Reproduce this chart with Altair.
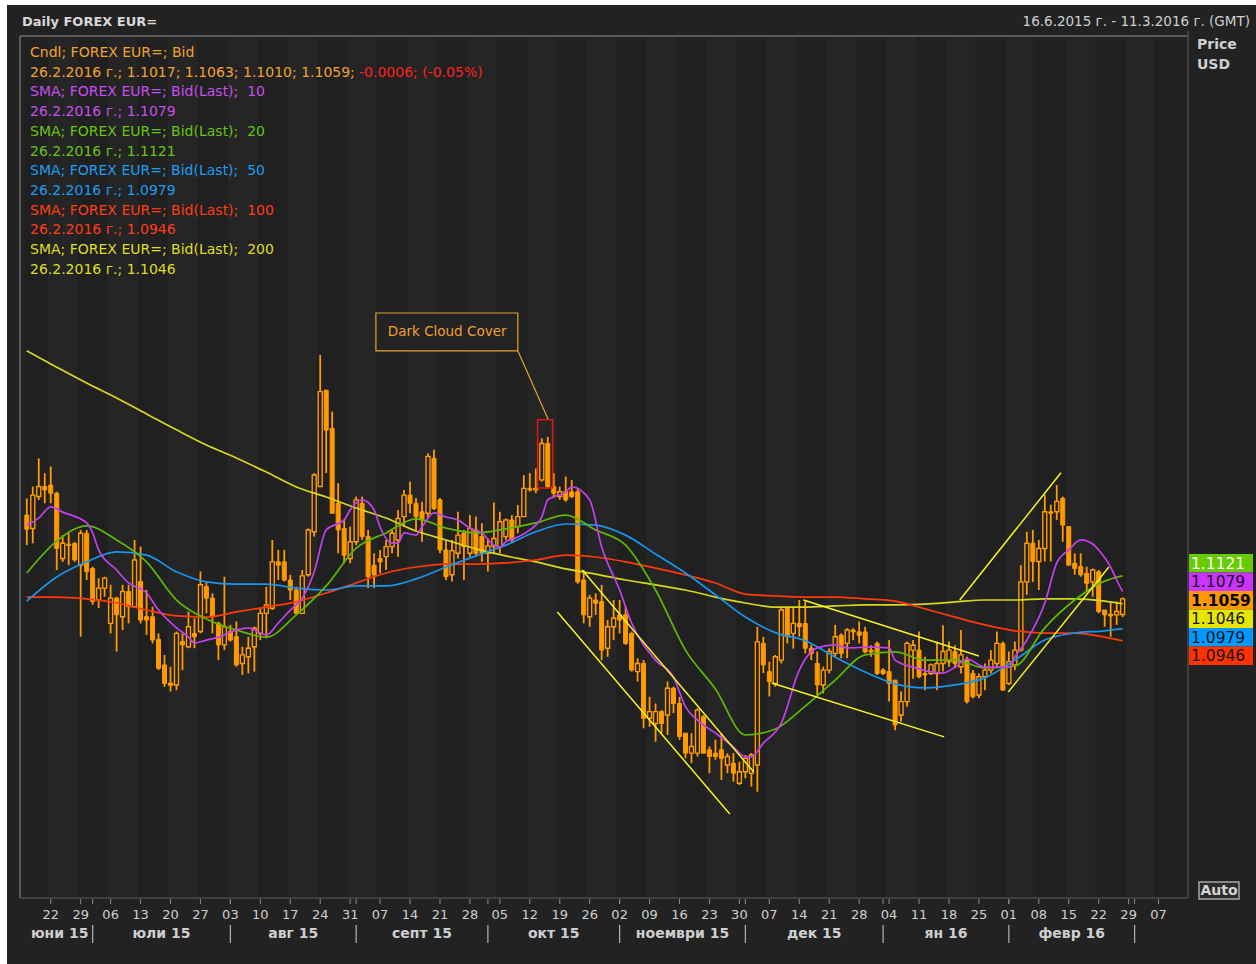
import altair as alt
import pandas as pd

# ---------------- data ----------------
opens = [1.1285,1.1249,1.1335,1.1362,1.1366,1.1344,1.1168,1.1207,1.1209,1.1150,
         1.1236,1.1141,1.1056,1.1088,1.0993,1.1061,1.1011,1.1079,1.1038,1.1106,
         1.1011,1.1011,1.0950,1.0881,1.0827,1.0827,1.0944,1.0930,1.0966,1.0971,
         1.1092,1.1061,1.0993,1.0935,1.0971,1.0957,1.0885,1.0903,1.0930,1.0966,
         1.1020,1.1034,1.1159,1.1159,1.1110,1.1083,1.1020,1.1124,1.1240,1.1362,
         1.1622,1.1519,1.1317,1.1249,1.1168,1.1213,1.1317,1.1227,1.1150,1.1168,
         1.1173,1.1200,1.1218,1.1281,1.1339,1.1317,1.1294,1.1290,1.1438,1.1326,
         1.1191,1.1124,1.1182,1.1236,1.1182,1.1245,1.1227,1.1182,1.1200,1.1200,
         1.1227,1.1272,1.1254,1.1281,1.1357,1.1353,1.1380,1.1478,1.1362,1.1335,
         1.1348,1.1348,1.1348,1.1110,1.1011,1.1056,1.1052,1.0926,1.0984,1.1016,
         1.1016,1.0966,1.0863,1.0885,1.0737,1.0723,1.0755,1.0746,1.0818,1.0777,
         1.0697,1.0643,1.0643,1.0741,1.0652,1.0643,1.0652,1.0611,1.0616,1.0562,
         1.0593,1.0589,1.0611,1.0939,1.0863,1.0831,1.0894,1.1034,1.0966,1.0993,
         1.0993,1.0926,1.0885,1.0827,1.0867,1.0912,1.0961,1.0939,1.0975,1.0970,
         1.0970,1.0921,1.0939,1.0867,1.0863,1.0840,1.0746,1.0782,1.0921,1.0921,
         1.0858,1.0858,1.0858,1.0885,1.0890,1.0917,1.0876,1.0894,1.0858,1.0800,
         1.0849,1.0867,1.0885,1.0939,1.0831,1.0881,1.0921,1.1105,1.1209,1.1160,
         1.1195,1.1294,1.1294,1.1330,1.1254,1.1155,1.1146,1.1128,1.1105,1.1132,
         1.1029,1.1018,1.1016,1.1017]
highs = [1.1330,1.1362,1.1438,1.1398,1.1416,1.1348,1.1231,1.1236,1.1212,1.1245,
         1.1245,1.1146,1.1115,1.1119,1.1097,1.1065,1.1097,1.1097,1.1218,1.1200,
         1.1083,1.1038,1.0966,1.0908,1.0876,1.0971,1.0966,1.1025,1.1007,1.1133,
         1.1106,1.1074,1.0998,1.1119,1.0989,1.0998,1.0930,1.0957,1.0984,1.1034,
         1.1092,1.1218,1.1191,1.1191,1.1124,1.1092,1.1137,1.1249,1.1398,1.1717,
         1.1622,1.1564,1.1371,1.1272,1.1254,1.1335,1.1335,1.1245,1.1182,1.1191,
         1.1218,1.1245,1.1299,1.1353,1.1375,1.1331,1.1321,1.1452,1.1461,1.1331,
         1.1218,1.1218,1.1294,1.1245,1.1285,1.1281,1.1263,1.1222,1.1319,1.1294,
         1.1276,1.1285,1.1312,1.1393,1.1398,1.1411,1.1492,1.1496,1.1398,1.1362,
         1.1389,1.1380,1.1358,1.1137,1.1070,1.1074,1.1097,1.1002,1.1056,1.1056,
         1.1038,1.0971,1.0899,1.0894,1.0795,1.0777,1.0759,1.0836,1.0822,1.0795,
         1.0697,1.0697,1.0764,1.0746,1.0661,1.0679,1.0697,1.0643,1.0643,1.0620,
         1.0638,1.0643,1.0984,1.0957,1.0890,1.0908,1.1038,1.1038,1.1038,1.1056,
         1.1052,1.0935,1.0917,1.0876,1.0926,1.0989,1.0966,1.0980,1.0980,1.0998,
         1.0984,1.0934,1.0944,1.0872,1.0948,1.0840,1.0809,1.0944,1.0948,1.0971,
         1.0903,1.0885,1.0944,1.0988,1.0944,1.0934,1.0975,1.0903,1.0867,1.0858,
         1.0885,1.0921,1.0971,1.0944,1.0917,1.0944,1.1150,1.1240,1.1245,1.1218,
         1.1340,1.1313,1.1366,1.1335,1.1254,1.1182,1.1182,1.1146,1.1141,1.1137,
         1.1029,1.1052,1.1052,1.1063]
lows = [1.1204,1.1209,1.1326,1.1317,1.1317,1.1137,1.1159,1.1150,1.1159,1.0957,
        1.1110,1.1043,1.1034,1.1065,1.0966,1.0917,1.0975,1.0993,1.1038,1.0993,
        1.0962,1.0939,1.0867,1.0822,1.0809,1.0813,1.0867,1.0926,1.0926,1.0966,
        1.1020,1.0966,1.0894,1.0921,1.0944,1.0876,1.0854,1.0858,1.0863,1.0948,
        1.0953,1.1029,1.1110,1.1106,1.1056,1.1016,1.1020,1.1119,1.1227,1.1362,
        1.1398,1.1290,1.1182,1.1155,1.1155,1.1204,1.1218,1.1088,1.1088,1.1128,
        1.1137,1.1182,1.1173,1.1254,1.1290,1.1245,1.1213,1.1276,1.1299,1.1182,
        1.1110,1.1106,1.1168,1.1110,1.1173,1.1173,1.1159,1.1133,1.1182,1.1182,
        1.1218,1.1213,1.1236,1.1281,1.1348,1.1344,1.1375,1.1357,1.1331,1.1326,
        1.1321,1.1331,1.1100,1.0993,1.0984,1.1016,1.0894,1.0903,1.0948,1.0966,
        1.0935,1.0863,1.0836,1.0710,1.0714,1.0674,1.0697,1.0692,1.0751,1.0679,
        1.0629,1.0616,1.0634,1.0643,1.0589,1.0625,1.0571,1.0589,1.0566,1.0557,
        1.0575,1.0553,1.0539,1.0859,1.0796,1.0822,1.0885,1.0939,1.0925,1.0957,
        1.0912,1.0894,1.0800,1.0804,1.0858,1.0903,1.0899,1.0899,1.0948,1.0939,
        1.0912,1.0903,1.0854,1.0854,1.0782,1.0705,1.0728,1.0768,1.0844,1.0845,
        1.0813,1.0854,1.0813,1.0863,1.0876,1.0872,1.0858,1.0777,1.0791,1.0791,
        1.0813,1.0858,1.0872,1.0813,1.0827,1.0867,1.0917,1.1070,1.1105,1.1083,
        1.1160,1.1160,1.1272,1.1213,1.1150,1.1124,1.1119,1.1079,1.1065,1.1020,
        1.0984,1.0957,1.0989,1.1010]
closes = [1.1247,1.1339,1.1362,1.1353,1.1344,1.1195,1.1209,1.1203,1.1164,1.1236,
          1.1133,1.1052,1.1088,1.1115,1.1061,1.1016,1.1079,1.1038,1.1164,1.1002,
          1.1002,1.0948,1.0872,1.0831,1.0831,1.0966,1.0935,1.0984,1.0957,1.1097,
          1.1061,1.1011,1.0935,1.0984,1.0948,1.0881,1.0908,1.0926,1.0980,1.1020,
          1.1043,1.1159,1.1150,1.1110,1.1083,1.1020,1.1121,1.1245,1.1393,1.1618,
          1.1514,1.1290,1.1245,1.1177,1.1213,1.1326,1.1227,1.1119,1.1124,1.1159,
          1.1200,1.1236,1.1276,1.1339,1.1317,1.1281,1.1272,1.1443,1.1303,1.1191,
          1.1119,1.1189,1.1231,1.1200,1.1249,1.1182,1.1182,1.1202,1.1222,1.1267,
          1.1272,1.1218,1.1281,1.1357,1.1353,1.1357,1.1478,1.1362,1.1344,1.1348,
          1.1326,1.1335,1.1105,1.1016,1.1061,1.1047,1.0921,1.0984,1.1007,1.1002,
          1.0939,1.0867,1.0885,1.0737,1.0755,1.0755,1.0723,1.0818,1.0777,1.0688,
          1.0643,1.0661,1.0759,1.0643,1.0634,1.0634,1.0629,1.0634,1.0589,1.0593,
          1.0629,1.0638,1.0943,1.0881,1.0836,1.0903,1.1029,1.0957,1.0993,1.0984,
          1.0926,1.0912,1.0827,1.0867,1.0917,1.0957,1.0912,1.0975,1.0970,1.0961,
          1.0916,1.0916,1.0858,1.0858,1.0831,1.0719,1.0782,1.0939,1.0934,1.0849,
          1.0854,1.0881,1.0885,1.0917,1.0921,1.0885,1.0908,1.0782,1.0795,1.0849,
          1.0867,1.0894,1.0939,1.0813,1.0890,1.0921,1.1105,1.1209,1.1160,1.1195,
          1.1294,1.1290,1.1322,1.1258,1.1150,1.1141,1.1124,1.1101,1.1137,1.1025,
          1.1016,1.1013,1.1025,1.1059]

sma_idx = [0,5,10,15,20,25,30,35,40,45,50,55,60,65,70,75,80,85,90,95,100,105,
           110,115,120,125,130,135,140,145,150,155,160,165,170,175,180,183]
sma20 = [1.1129,1.1215,1.1256,1.1218,1.1159,1.1056,1.1005,1.0975,1.0956,1.1016,
         1.1094,1.1196,1.1237,1.1275,1.1250,1.1237,1.1248,1.1264,1.1285,1.1245,
         1.1204,1.1083,1.0921,1.0816,1.0692,1.0708,1.0770,1.0840,1.0908,1.0916,
         1.0894,1.0894,1.0873,1.0878,1.0981,1.1056,1.1107,1.1121]
sma50 = [1.1053,1.1118,1.1159,1.1186,1.1177,1.1132,1.1105,1.1099,1.1099,1.1088,
         1.1083,1.1094,1.1094,1.1113,1.1145,1.1175,1.1204,1.1240,1.1261,1.1258,
         1.1231,1.1180,1.1129,1.1070,1.1010,1.0968,1.0946,1.0902,1.0862,1.0830,
         1.0819,1.0827,1.0846,1.0894,1.0948,1.0967,1.0973,1.0979]
sma100 = [1.1064,1.1064,1.1059,1.1048,1.1029,1.1013,1.1010,1.1024,1.1037,1.1051,
          1.1075,1.1102,1.1129,1.1145,1.1153,1.1153,1.1156,1.1164,1.1177,1.1172,
          1.1159,1.1142,1.1124,1.1102,1.1072,1.1067,1.1064,1.1064,1.1059,1.1053,
          1.1032,1.1010,1.0989,1.0973,1.0967,1.0967,1.0956,1.0946]
sma200 = [1.1728,1.1684,1.1641,1.1601,1.1558,1.1515,1.1474,1.1439,1.1401,1.1361,
          1.1334,1.1304,1.1277,1.1242,1.1218,1.1194,1.1175,1.1159,1.1140,1.1126,
          1.1110,1.1097,1.1083,1.1064,1.1048,1.1037,1.1037,1.1040,1.1043,1.1043,
          1.1045,1.1051,1.1056,1.1056,1.1059,1.1059,1.1053,1.1046]
sma10_idx = [0,2,4,6,10,11,12,15,17,20,22,25,27,28,30,32,35,37,39,40,42,44,46,48,50,
             53,54,56,58,59,61,62,63,65,66,68,70,72,74,76,78,79,80,82,84,86,87,90,91,
             94,96,99,101,105,108,110,112,115,118,120,121,123,126,129,132,135,137,141,
             144,145,148,153,155,157,160,164,165,167,170,172,174,176,178,179,181,182,183]
sma10 = [1.1258,1.1277,1.1307,1.1293,1.1264,1.1237,1.1191,1.1137,1.1102,1.1075,
         1.1029,1.0981,1.0956,1.0940,1.0948,1.0956,1.0975,1.0981,1.0967,1.0962,
         1.0994,1.1029,1.1061,1.1132,1.1245,1.1272,1.1299,1.1326,1.1299,1.1253,
         1.1210,1.1210,1.1237,1.1231,1.1253,1.1291,1.1280,1.1272,1.1250,1.1237,
         1.1204,1.1199,1.1213,1.1226,1.1245,1.1280,1.1326,1.1347,1.1361,1.1326,
         1.1199,1.1083,1.0994,1.0894,1.0848,1.0768,1.0732,1.0697,1.0660,1.0633,
         1.0633,1.0670,1.0724,1.0867,1.0927,1.0935,1.0927,1.0929,1.0927,1.0894,
         1.0875,1.0859,1.0875,1.0897,1.0875,1.0875,1.0902,1.0948,1.1048,1.1156,
         1.1191,1.1218,1.1207,1.1191,1.1145,1.1110,1.1079]

# drawn trend lines (start day, start price, end day, end price)
trend_x0 = [88.6, 92.75, 129.7, 124.4, 155.8, 163.9]
trend_p0 = [1.1024, 1.1137, 1.1056, 1.0832, 1.1056, 1.0808]
trend_x1 = [117.4, 121.4, 159.0, 153.2, 172.7, 180.7]
trend_p1 = [1.0479, 1.0592, 1.0905, 1.0687, 1.1399, 1.1145]

day_tick_idx = [4,9,14,19,24,29,34,39,44,49,54,59,64,69,74,79,84,89,94,99,104,109,
                114,119,124,129,134,139,144,149,154,159,164,169,174,179,184,189]
day_tick_labels = ["22","29","06","13","20","27","03","10","17","24","31","07","14",
                   "21","28","05","12","19","26","02","09","16","23","30","07","14",
                   "21","28","04","11","18","25","01","08","15","22","29","07"]
month_names = ["юни 15","юли 15","авг 15","септ 15","окт 15","ноември 15","дек 15","ян 16","февр 16"]
month_start_idx = [0, 11, 34, 55, 77, 99, 120, 143, 164, 185]
price_ticks = [1.03,1.04,1.05,1.06,1.07,1.08,1.09,1.10,1.11,1.12,1.13,1.14,1.15,
               1.16,1.17,1.18,1.19,1.20,1.21,1.22,1.23,1.24]

# annotation "Dark Cloud Cover"
dcc_box = {"x0": 58.3, "x1": 82.0, "p0": 1.1830, "p1": 1.1728}
dcc_label = {"x": 70.2, "p": 1.1779, "t": "Dark Cloud Cover"}
dcc_link = {"x0": 82.0, "p0": 1.1728, "x1": 87.1, "p1": 1.1542}
dcc_mark = {"x0": 85.3, "x1": 87.8, "p0": 1.1542, "p1": 1.1358}

# ---------------- styling ----------------
W, H = 1168, 861
X_DOMAIN = [-0.298, 193.08]
Y_DOMAIN = [1.02524, 1.25744]
FONT = "DejaVu Sans"
BG = "#222222"
LIGHT, DARK = "#252525", "#202020"
HOLLOW = "#222222"
ORANGE = "#ff9a00"
C10, C20, C50, C100, C200 = "#c540ef", "#5fb800", "#1696f0", "#ff3a0a", "#d8d81a"
TREND = "#f5f51e"
TXT = "#cfcfcf"
ONE = pd.DataFrame({"a": [0]})

xs = alt.Scale(domain=X_DOMAIN, nice=False, zero=False)
ys = alt.Scale(domain=Y_DOMAIN, nice=False, zero=False)


def XQ(f):
    return alt.X(f, type="quantitative", scale=xs, axis=None)


def YQ(f):
    return alt.Y(f, type="quantitative", scale=ys, axis=None)


def vtext(s, x, y, color, size=14, weight="normal", align="left", font=FONT):
    return alt.Chart(ONE).mark_text(text=s, align=align, baseline="middle", font=font,
                                    fontSize=size, fontWeight=weight, color=color
                                    ).encode(x=alt.value(x), y=alt.value(y))


layers = []
# page background (white border strip at left/top like the screenshot)
layers.append(alt.Chart(ONE).mark_rect(color=BG).encode(
    x=alt.value(-13), x2=alt.value(1236), y=alt.value(-32), y2=alt.value(927)))

# weekly stripes
weeks = pd.DataFrame({"k": list(range(-1, 38))})
weeks["s"] = (4 + 5 * weeks.k - 0.5).clip(lower=X_DOMAIN[0])
weeks["e"] = (4 + 5 * weeks.k + 4.5).clip(upper=X_DOMAIN[1])
weeks["even"] = [k % 2 == 0 for k in weeks.k]
layers.append(alt.Chart(weeks).transform_filter("datum.even").mark_rect(color=LIGHT).encode(
    x=XQ("s"), x2="e:Q"))
layers.append(alt.Chart(weeks).transform_filter("!datum.even").mark_rect(color=DARK).encode(
    x=XQ("s"), x2="e:Q"))

# candles
cdf = pd.DataFrame({"i": list(range(len(opens))), "o": opens, "h": highs, "l": lows, "c": closes})
y_axis = alt.Axis(orient="right", values=price_ticks, title=None, grid=False, domain=False,
                  labelExpr="abs(datum.value - 1.2) < 1e-6 ? '1.2' : format(datum.value, '.2f')",
                  labelFontWeight={"condition": {"test": "abs(datum.value - 1.2) < 1e-6", "value": "bold"},
                                   "value": "normal"},
                  tickSize=5, tickColor="#a0a0a0", labelColor=TXT, labelFont=FONT,
                  labelFontSize=13, labelPadding=3)
layers.append(alt.Chart(cdf).mark_rule(color=ORANGE, strokeWidth=1.8).encode(
    x=XQ("i"), y=alt.Y("l:Q", scale=ys, axis=y_axis), y2="h:Q"))
layers.append(alt.Chart(cdf).transform_filter("datum.c < datum.o").mark_bar(
    size=4, fill=ORANGE, stroke=ORANGE, strokeWidth=1).encode(x=XQ("i"), y=YQ("o"), y2="c:Q"))
layers.append(alt.Chart(cdf).transform_filter("datum.c >= datum.o").mark_bar(
    size=4, fill=HOLLOW, stroke=ORANGE, strokeWidth=1.4).encode(x=XQ("i"), y=YQ("o"), y2="c:Q"))

# moving averages, one layer each
for idx, vals, col in [(sma_idx, sma200, C200), (sma_idx, sma100, C100), (sma_idx, sma50, C50),
                       (sma_idx, sma20, C20), (sma10_idx, sma10, C10)]:
    layers.append(alt.Chart(pd.DataFrame({"i": idx, "v": vals})).mark_line(
        color=col, strokeWidth=1.7, interpolate="monotone").encode(x=XQ("i"), y=YQ("v")))

# trend lines
tdf = pd.DataFrame({"x0": trend_x0, "x1": trend_x1, "p0": trend_p0, "p1": trend_p1})
layers.append(alt.Chart(tdf).mark_rule(color=TREND, strokeWidth=1.5).encode(
    x=XQ("x0"), x2="x1:Q", y=YQ("p0"), y2="p1:Q"))

# annotation
layers.append(alt.Chart(pd.DataFrame([dcc_link])).mark_rule(color="#e8a030", strokeWidth=1.2).encode(
    x=XQ("x0"), x2="x1:Q", y=YQ("p0"), y2="p1:Q"))
layers.append(alt.Chart(pd.DataFrame([dcc_box])).mark_rect(fill="#232323", stroke="#e8a030", strokeWidth=1.2).encode(
    x=XQ("x0"), x2="x1:Q", y=YQ("p0"), y2="p1:Q"))
layers.append(alt.Chart(pd.DataFrame([dcc_label])).mark_text(font=FONT, fontSize=13.5, color="#f0a030").encode(
    x=XQ("x"), y=YQ("p"), text="t:N"))
layers.append(alt.Chart(pd.DataFrame([dcc_mark])).mark_rect(fill="transparent", stroke="#e31515", strokeWidth=1.5).encode(
    x=XQ("x0"), x2="x1:Q", y=YQ("p0"), y2="p1:Q"))

# frame
FR = "#5a5a5a"
layers.append(alt.Chart(ONE).mark_rule(color=FR, strokeWidth=2).encode(x=alt.value(0), x2=alt.value(W), y=alt.value(-1)))
layers.append(alt.Chart(ONE).mark_rule(color=FR, strokeWidth=2).encode(x=alt.value(0), y=alt.value(-1), y2=alt.value(H)))
layers.append(alt.Chart(ONE).mark_rule(color="#4a4a4a", strokeWidth=1.5).encode(x=alt.value(W), y=alt.value(-6), y2=alt.value(H)))
layers.append(alt.Chart(ONE).mark_rule(color="#4a4a4a", strokeWidth=1.5).encode(x=alt.value(0), x2=alt.value(W), y=alt.value(H)))

# legend text block
last = "26.2.2016 г.; "
NB = "\u00a0"
leg = [
    ("Cndl; FOREX EUR=; Bid", "#f2a030"),
    (last + "%.4f; %.4f; %.4f; %.4f; " % (opens[-1], highs[-1], lows[-1], closes[-1]), "#f2a030"),
    ("SMA; FOREX EUR=; Bid(Last);" + NB + " 10", "#c84ef0"),
    (last + "%.4f" % sma10[-1], "#c84ef0"),
    ("SMA; FOREX EUR=; Bid(Last);" + NB + " 20", "#68c414"),
    (last + "%.4f" % sma20[-1], "#68c414"),
    ("SMA; FOREX EUR=; Bid(Last);" + NB + " 50", "#1a9df2"),
    (last + "%.4f" % sma50[-1], "#1a9df2"),
    ("SMA; FOREX EUR=; Bid(Last);" + NB + " 100", "#ff3c14"),
    (last + "%.4f" % sma100[-1], "#ff3c14"),
    ("SMA; FOREX EUR=; Bid(Last);" + NB + " 200", "#dede20"),
    (last + "%.4f" % sma200[-1], "#dede20"),
]
for r, (s, col) in enumerate(leg):
    layers.append(vtext(s, 10, 16 + 19.7 * r, col))
layers.append(vtext("-0.0006; (-0.05%)", 339, 35.7, "#ff2020"))

# headers
layers.append(vtext("Daily FOREX EUR=", 2, -15, "#d8d8d8", size=13, weight="bold"))
layers.append(vtext("16.6.2015 г. - 11.3.2016 г. (GMT)", 1230, -15, TXT, size=13.5, align="right"))
layers.append(vtext("Price", 1177, 8, "#d0d0d0", size=14, weight="bold"))
layers.append(vtext("USD", 1177, 28, "#d0d0d0", size=14, weight="bold"))

# day ticks and labels (bottom row)
ddf = pd.DataFrame({"i": day_tick_idx, "t": day_tick_labels})
layers.append(alt.Chart(ddf).mark_rule(color="#8c8c8c", strokeWidth=1).encode(
    x=XQ("i"), y=alt.value(H + 1), y2=alt.value(H + 6)))
layers.append(alt.Chart(ddf).mark_text(font=FONT, fontSize=13, color=TXT, baseline="middle").encode(
    x=XQ("i"), y=alt.value(H + 17), text="t:N"))

# month row
mdf = pd.DataFrame({"s": month_start_idx[1:]})
layers.append(alt.Chart(mdf).mark_rule(color="#b5b5b5", strokeWidth=1.2).encode(
    x=XQ("s"), y=alt.value(H + 27), y2=alt.value(H + 45)))
layers.append(alt.Chart(mdf).mark_rule(color="#8c8c8c", strokeWidth=1).encode(
    x=XQ("s"), y=alt.value(H + 1), y2=alt.value(H + 6)))
mc = pd.DataFrame({"c": [(a + b) / 2 for a, b in zip(month_start_idx[:-1], month_start_idx[1:])],
                   "m": month_names})
layers.append(alt.Chart(mc).mark_text(font=FONT, fontSize=14, fontWeight="bold", color=TXT).encode(
    x=XQ("c"), y=alt.value(H + 36), text="m:N"))

# last-value price tags
tags = [(sma20[-1], "#66cc00", "#ffffff", "normal"), (sma10[-1], "#cc33ff", "#151515", "normal"),
        (closes[-1], "#ff9900", "#000000", "bold"), (sma200[-1], "#e6e600", "#151515", "normal"),
        (sma50[-1], "#0099ff", "#151515", "normal"), (sma100[-1], "#ff3300", "#151515", "normal")]
for k, (v, fill, tc, fw) in enumerate(tags):
    top = 517 + 18.5 * k
    layers.append(alt.Chart(ONE).mark_rect(color=fill).encode(
        x=alt.value(W + 1), x2=alt.value(W + 65), y=alt.value(top), y2=alt.value(top + 18.5)))
    layers.append(vtext("%.4f" % v, W + 3, top + 9.5, tc, size=15.5, weight=fw))

# Auto button
layers.append(alt.Chart(ONE).mark_rect(fill="#2b2b2b", stroke="#a8a8a8", strokeWidth=1.5).encode(
    x=alt.value(W + 11), x2=alt.value(W + 51), y=alt.value(H - 16), y2=alt.value(H + 1)))
layers.append(vtext("Auto", W + 31, H - 7, "#d4d4d4", size=14, weight="bold", align="center"))

chart = alt.layer(*layers).properties(
    width=W, height=H,
    autosize=alt.AutoSizeParams(type="none"),
    padding={"left": 20, "top": 37, "right": 68, "bottom": 66},
    background="#ffffff",
).configure_view(strokeWidth=0)

chart.save("out.html", embed_options={"renderer": "svg", "actions": False})
